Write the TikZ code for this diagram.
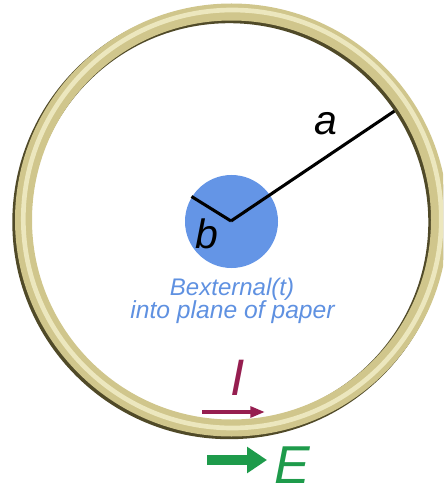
\documentclass[tikz,border=0pt]{standalone}
\usepackage{fontspec}
\setmainfont{Liberation Sans}
\usetikzlibrary{arrows.meta}
\definecolor{ringdark}{RGB}{80,74,40}
\definecolor{ringbody}{RGB}{208,198,140}
\definecolor{ringlight}{RGB}{236,231,190}
\definecolor{diskblue}{RGB}{100,149,230}
\definecolor{textblue}{RGB}{95,145,225}
\definecolor{currentred}{RGB}{150,30,80}
\definecolor{fieldgreen}{RGB}{30,155,75}
\begin{document}
\begin{tikzpicture}[x=0.75pt,y=-0.75pt,
  radiusline/.style={black,line width=2.3pt},
  lbl/.style={inner sep=0pt,font=\itshape},
]
\useasboundingbox (0,0) rectangle (443,488);
\clip (0,0) rectangle (443,488);
% blue flux disc
\node[circle,fill=diskblue,minimum size=69.75pt,inner sep=0pt] (disc) at (231.5,221.5) {};
% radii
\coordinate (O) at (231,221);
\coordinate (Aend) at (399,108);
\coordinate (Bend) at (191.5,196.5);
\draw[radiusline] (O) -- (Aend);
\draw[radiusline] (O) -- (Bend);
% ring
\draw[ringdark,line width=13.5pt] (229.3,222.2) circle[radius=208];
\draw[ringbody,line width=12.75pt] (231.5,220) circle[radius=208];
\draw[ringlight,line width=3.5pt] (232.3,219) circle[radius=209];
% labels
\node[lbl,font=\fontsize{30.75}{32}\selectfont\itshape,anchor=base] (la) at (326,135) {a};
\node[lbl,font=\fontsize{30.75}{32}\selectfont\itshape,anchor=base] (lb) at (207,248) {b};
\node[lbl,text=textblue,font=\fontsize{18}{20}\selectfont\itshape,anchor=base] (t1) at (232,295.5) {Bexternal(t)};
\node[lbl,text=textblue,font=\fontsize{18.5}{20}\selectfont\itshape,anchor=base] (t2) at (232.5,318) {into plane of paper};
\node[lbl,text=currentred,font=\fontsize{38.5}{40}\selectfont\itshape,anchor=base] (lI) at (238,395) {I};
\node[lbl,text=fieldgreen,font=\fontsize{40}{42}\selectfont\itshape,anchor=base west] (lE) at (274,483.5) {E};
% current arrow
\coordinate (i0) at (202,412);
\coordinate (i1) at (265,412);
\draw[currentred,line width=3pt,-{Triangle[length=11pt,width=8pt]}] (i0) -- (i1);
% field arrow
\coordinate (e0) at (207,460);
\coordinate (e1) at (267,460);
\draw[fieldgreen,line width=7.5pt,-{Triangle[length=15pt,width=19pt]}] (e0) -- (e1);
\end{tikzpicture}
\end{document}
